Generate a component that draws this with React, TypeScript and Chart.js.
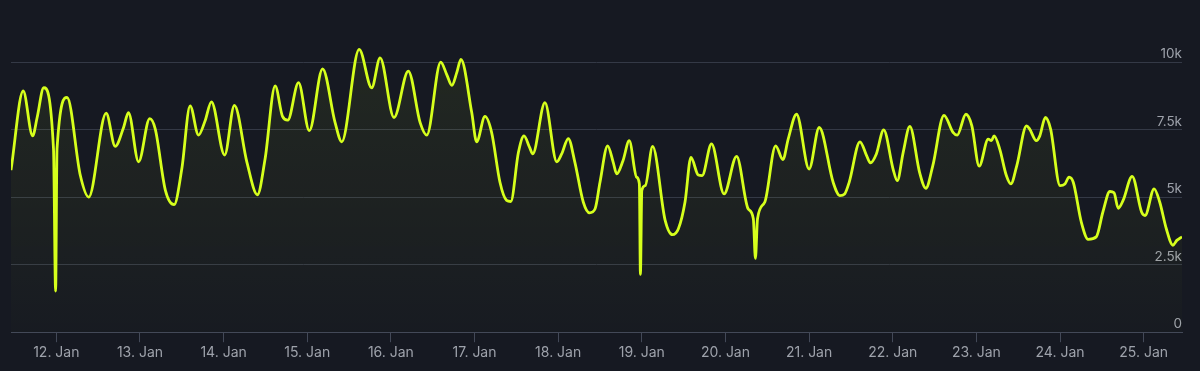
import React, { useEffect, useRef } from "react";
import { Chart, registerables } from "chart.js";

Chart.register(...registerables);

// x-axis: day labels and their positions (hours after 12 Jan 00:00)
const dayLabels = [
  "12. Jan", "13. Jan", "14. Jan", "15. Jan", "16. Jan", "17. Jan", "18. Jan",
  "19. Jan", "20. Jan", "21. Jan", "22. Jan", "23. Jan", "24. Jan", "25. Jan",
];
const dayTickHours = [0, 24, 48, 72, 96, 120, 144, 168, 192, 216, 240, 264, 288, 312];

// y-axis ticks
const yTickValues = [0, 2500, 5000, 7500, 10000];
const yTickLabels = ["0", "2.5k", "5k", "7.5k", "10k"];

// series: hours after 12 Jan 00:00
const hours = [
  -13, -9.5, -6.8, -5.5, -3.6, -0.8, -0.2, 0.2, 3.1, 6.9, 9.3, 14.3, 16.9, 19.3, 20.7,
  23.6, 26.8, 28.4, 31.3, 33.8, 36.0, 38.4, 40.8, 42.7, 44.5, 48.3, 51.1, 54.7, 57.7,
  59.9, 62.8, 64.9, 66.4, 69.5, 72.6, 76.4, 80.0, 81.9, 86.9, 90.5, 92.9, 96.9, 101.0,
  104.4, 106.3, 110.3, 112.0, 113.5, 114.9, 116.1, 119.2, 120.6, 123.0, 124.9, 127.3,
  129.2, 130.4, 132.6, 134.2, 135.8, 136.7, 140.2, 143.6, 145.0, 146.9, 148.8, 151.2,
  153.0, 154.6, 156.0, 158.2, 159.8, 160.8, 162.6, 164.4, 166.5, 167.3, 167.6, 168.0,
  169.0, 171.1, 174.7, 176.8, 178.5, 180.4, 182.1, 184.2, 185.3, 188.0, 191.6, 195.2,
  198.5, 200.0, 200.6, 201.2, 203.3, 206.4, 208.5, 210.0, 212.4, 216.0, 218.9, 222.9,
  224.8, 226.2, 227.5, 230.6, 232.5, 233.6, 235.3, 237.4, 240.1, 241.3, 243.0, 244.9,
  247.7, 249.5, 251.5, 254.7, 257.3, 258.5, 261.0, 262.7, 264.8, 267.4, 268.3, 269.1,
  270.7, 272.6, 273.9, 275.6, 278.4, 279.3, 281.2, 282.2, 283.8, 285.3, 288.0, 289.4,
  290.6, 291.8, 294.1, 296.1, 298.4, 300.3, 302.3, 303.5, 304.7, 306.1, 308.7, 311.4,
  312.4, 315.0, 316.6, 318.5, 320.4, 321.5, 323,
];

const players = [
  6000, 8930, 7270, 7950, 9050, 6780, 1520, 6780, 8690, 5800, 5000, 8110, 6880, 7580, 8130,
  6310, 7910, 7520, 5250, 4720, 6040, 8380, 7300, 7830, 8530, 6560, 8400, 6290, 5090,
  6410, 9120, 7990, 7850, 9240, 7460, 9750, 7760, 7050, 10470, 9050, 10160, 7950, 9670,
  7760, 7300, 10000, 9550, 9140, 9610, 10100, 8130, 7050, 7990, 7400, 5550,
  4880, 4840, 6660, 7270, 6840, 6600, 8500, 6310, 6600, 7170, 6290, 4820,
  4420, 4570, 5550, 6900, 6290, 5860, 6350, 7090, 5740, 5490, 2140, 5250,
  5430, 6880, 4140, 3610, 3830, 4820, 6470, 5820, 5800, 6970, 5120, 6510,
  4570, 4200, 2730, 4200, 4820, 6900, 6390, 7150, 8070, 6040, 7580, 5550,
  5060, 5120, 5550, 7050, 6540, 6270, 6600, 7490, 6040, 5610, 6660, 7620,
  5920, 5330, 6170, 8030, 7400, 7300, 8070, 7640, 6150, 7150, 7090, 7270,
  6780, 5800, 5490, 6170, 7640, 7520, 7090, 7270, 7950, 7520, 5430, 5490,
  5740, 5550, 4080, 3440, 3530, 4450, 5210, 5160, 4590, 4880, 5770, 4450,
  4320, 5310, 4820, 3830, 3220, 3400, 3530,
];

const BG = "#161922";
const LINE = "#d6ff1c";
const GRID = "#343946";
const AXIS = "#434958";
const TEXT = "#9ea2ab";
const FONT = "Inter, 'Noto Sans', sans-serif";

export default function App() {
  const ref = useRef<HTMLCanvasElement>(null);

  useEffect(() => {
    const canvas = ref.current;
    if (!canvas) return;
    const chart = new Chart(canvas, {
      type: "line",
      data: {
        datasets: [
          {
            data: hours.map((h, i) => ({ x: h, y: players[i] })),
            borderColor: LINE,
            borderWidth: 2.8,
            pointRadius: 0,
            cubicInterpolationMode: "monotone",
            fill: "origin",
            backgroundColor: (ctx: any) => {
              const c = ctx.chart;
              const area = c.chartArea;
              if (!area) return "rgba(0,0,0,0)";
              const g = c.ctx.createLinearGradient(0, area.top, 0, area.bottom);
              g.addColorStop(0, "rgba(214,255,28,0.08)");
              g.addColorStop(1, "rgba(214,255,28,0.01)");
              return g;
            },
          },
        ],
      },
      options: {
        animation: false,
        responsive: false,
        maintainAspectRatio: false,
        layout: { padding: { left: 11, right: 18, top: 8, bottom: 8 } },
        plugins: { legend: { display: false }, tooltip: { enabled: false } },
        scales: {
          x: {
            type: "linear",
            min: -13,
            max: 323,
            afterBuildTicks: (axis: any) => {
              axis.ticks = dayTickHours.map((v) => ({ value: v }));
            },
            ticks: {
              autoSkip: false,
              maxRotation: 0,
              padding: 2,
              color: TEXT,
              font: { family: FONT, size: 14 },
              callback: (v: any) => {
                const i = dayTickHours.indexOf(Number(v));
                return i >= 0 ? dayLabels[i] : "";
              },
            },
            grid: {
              drawOnChartArea: false,
              drawTicks: true,
              tickLength: 10,
              tickColor: AXIS,
              color: AXIS,
            },
            border: { display: true, color: AXIS, width: 1 },
          },
          y: {
            type: "linear",
            position: "right",
            min: 0,
            max: 12000,
            afterBuildTicks: (axis: any) => {
              axis.ticks = yTickValues.map((v) => ({ value: v }));
            },
            ticks: {
              mirror: true,
              padding: 0,
              labelOffset: -8,
              color: TEXT,
              font: { family: FONT, size: 13.5 },
              callback: (v: any) => {
                const i = yTickValues.indexOf(Number(v));
                return i >= 0 ? yTickLabels[i] : "";
              },
            },
            grid: {
              drawTicks: false,
              color: (ctx: any) => (ctx.tick && ctx.tick.value === 0 ? "rgba(0,0,0,0)" : GRID),
            },
            border: { display: false },
          },
        },
      },
    } as any);
    return () => chart.destroy();
  }, []);

  return (
    <div
      style={{
        position: "fixed",
        left: 0,
        top: 0,
        width: 1200,
        height: 371,
        background: BG,
      }}
    >
      <canvas ref={ref} width={1200} height={371} style={{ display: "block" }} />
    </div>
  );
}
